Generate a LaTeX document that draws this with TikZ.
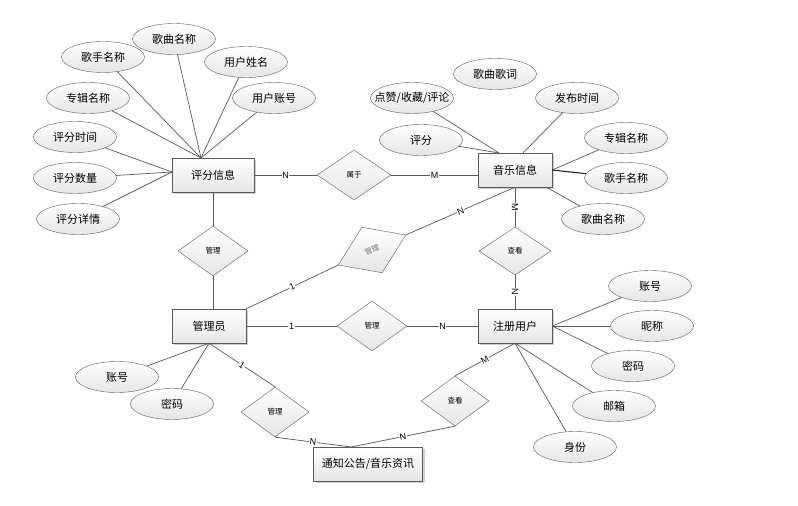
\documentclass[tikz,border=0pt]{standalone}
\usepackage{fontspec}
\setmainfont{Liberation Sans}
\newfontfamily\cjk{Noto Sans CJK SC}
\usetikzlibrary{shapes.geometric, shadows}
\tikzset{
    ent/.style={
        rectangle, draw=black!65, top color=white, bottom color=black!10,
        minimum width=74pt, minimum height=34pt,
        font=\cjk\fontsize{11}{13}\selectfont,
        drop shadow={shadow xshift=2pt, shadow yshift=-2pt, fill=black!30, opacity=.6}
    },
    attr/.style={
        ellipse, draw=black!65, top color=white, bottom color=black!10,
        minimum width=83pt, minimum height=31pt, inner sep=0pt,
        font=\cjk\fontsize{11}{13}\selectfont
    },
    rel/.style={
        diamond, draw=black!65, top color=white, bottom color=black!10,
        minimum width=70pt, minimum height=50pt, inner sep=0pt,
        font=\cjk\fontsize{7.5}{9}\selectfont
    },
    ln/.style={
        draw=black!65, line width=0.7pt
    },
    card/.style={
        fill=white, inner sep=0.6pt, sloped,
        font=\fontsize{9}{10}\selectfont
    }
}

\begin{document}
\begin{tikzpicture}[x=1pt, y=-1pt]
        \useasboundingbox (0,0) rectangle (798,506);

        % entities
        \node[ent, minimum width=82pt] (pf) at (213,175) {评分信息};
        \node[ent] (yy)  at (515,170) {音乐信息};
        \node[ent] (gly) at (209,326) {管理员};
        \node[ent] (zc)  at (515,326) {注册用户};
        \node[ent, minimum width=109pt] (tz) at (368,464) {通知公告/音乐资讯};

        % relations
        \node[rel, minimum width=74pt] (sy) at (354,175) {属于};
        \node[rel] (gl1) at (213,251) {管理};
        \node[rel, rotate=24, minimum width=74pt, text=black!55] (gl2) at (372,250) {管理};
        \node[rel] (gl3) at (372,326) {管理};
        \node[rel, minimum width=72pt, minimum height=48pt] (ck1) at (515,251) {查看};
        \node[rel, minimum width=68pt] (gl4) at (275,412) {管理};
        \node[rel, minimum width=68pt] (ck2) at (455,401) {查看};

        % attributes of 评分信息
        \node[attr] (pfGqmc) at (174,39)  {歌曲名称};
        \node[attr] (pfGsmc) at (103,57)  {歌手名称};
        \node[attr] (pfYhxm) at (246,62)  {用户姓名};
        \node[attr] (pfZjmc) at (88,98)   {专辑名称};
        \node[attr] (pfYhzh) at (274,98)  {用户账号};
        \node[attr] (pfPfsj) at (75,137)  {评分时间};
        \node[attr] (pfPfsl) at (75,178)  {评分数量};
        \node[attr] (pfPfxq) at (78,219)  {评分详情};

        % attributes of 音乐信息
        \node[attr] (yyGcgc) at (495,74)  {歌曲歌词};
        \node[attr] (yyDz)   at (412,98)  {\makebox[0pt]{点赞/收藏/评论}};
        \node[attr] (yyFbsj) at (577,98)  {发布时间};
        \node[attr] (yyPf)   at (421,140) {评分};
        \node[attr] (yyZjmc) at (626,138) {专辑名称};
        \node[attr] (yyGsmc) at (626,178) {歌手名称};
        \node[attr] (yyGqmc) at (603,219) {歌曲名称};

        % attributes of 注册用户
        \node[attr] (zcZh) at (650,286) {账号};
        \node[attr] (zcNc) at (652,326) {昵称};
        \node[attr] (zcMm) at (633,366) {密码};
        \node[attr] (zcYx) at (614,406) {邮箱};
        \node[attr] (zcSf) at (575,447) {身份};

        % attributes of 管理员
        \node[attr] (glyZh) at (117,377) {账号};
        \node[attr] (glyMm) at (172,404) {密码};

        \coordinate (pfTop)  at (201,158);
        \coordinate (pfLeft) at (172,172);
        \coordinate (yyTopL) at (499,153);
        \coordinate (yyTopR) at (523,153);
        \coordinate (yyCorner) at (546,187);
        \coordinate (tzTop)  at (351,447);

        \path (pfGqmc) edge[ln] (pfTop)
                (pfGsmc) edge[ln] (pfTop)
                (pfYhxm) edge[ln] (pfTop)
                (pfZjmc) edge[ln] (pfTop)
                (pfYhzh) edge[ln] (pfTop)
                (pfPfsj) edge[ln] (pfLeft)
                (pfPfsl) edge[ln] (pfLeft)
                (pfPfxq) edge[ln] (pfLeft)
                (yyDz) edge[ln] (yyTopL)
                (yyPf) edge[ln] (yyTopL)
                (yyFbsj) edge[ln] (yyTopR)
                (yyZjmc) edge[ln] (yy.east)
                (yyGsmc) edge[ln, line width=1.1pt, draw=black!85] (yy.east)
                (yyGqmc) edge[ln] (yyCorner)
                (zcZh) edge[ln] (zc.east)
                (zcNc) edge[ln] (zc.east)
                (zcMm) edge[ln] (zc.east)
                (zcYx) edge[ln] (zc.south)
                (zcSf) edge[ln] (zc.south)
                (glyZh) edge[ln] (gly.south)
                (glyMm) edge[ln] (gly.south);

        \path (pf.east) edge[ln] node[card] {N} (sy.west)
                (sy.east) edge[ln] node[card] {M} (sy.east -| yy.west)
                (pf.south) edge[ln] (gl1.north)
                (gl1.south) edge[ln] (gl1.south |- gly.north)
                (gly.north east) edge[ln] node[card] {1} (gl2.west)
                (gl2.east) edge[ln] node[card] {N} (yy.south)
                (gly.east) edge[ln] node[card] {1} (gl3.west)
                (gl3.east) edge[ln] node[card] {N} (zc.west)
                (yy.south) edge[ln] node[card] {M} (ck1.north)
                (ck1.south) edge[ln] node[card] {N} (zc.north)
                (gly.south) edge[ln] node[card] {1} (gl4.north)
                (gl4.south) edge[ln] node[card] {N} (tzTop)
                (zc.south) edge[ln] node[card] {M} (ck2.north)
                (ck2.south) edge[ln] node[card] {N} (tzTop);
    \end{tikzpicture}
\end{document}
